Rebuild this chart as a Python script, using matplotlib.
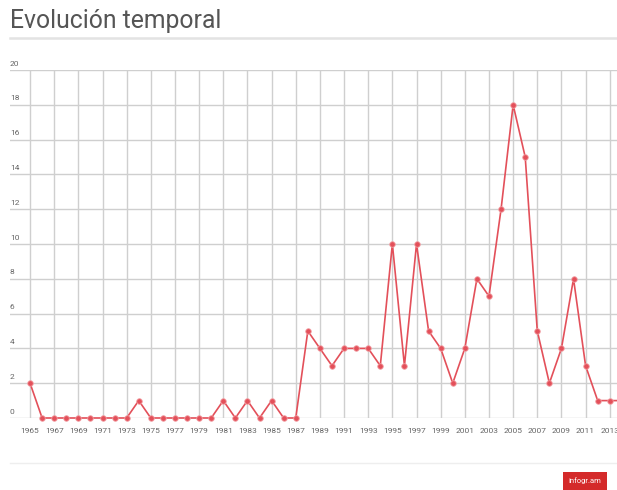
import numpy as np
import matplotlib
matplotlib.use("Agg")
import matplotlib.pyplot as plt
from matplotlib.transforms import blended_transform_factory

# Data
years = list(range(1965, 2015))
values = [2, 0, 0, 0, 0, 0, 0, 0, 0, 1,
          0, 0, 0, 0, 0, 0, 1, 0, 1, 0,
          1, 0, 0, 5, 4, 3, 4, 4, 4, 3,
          10, 3, 10, 5, 4, 2, 4, 8, 7, 12,
          18, 15, 5, 2, 4, 8, 3, 1, 1, 1]
tick_years = list(range(1965, 2014, 2))
y_ticks = list(range(0, 21, 2))

title = "Evolución temporal"
red = "#e3505a"

plt.rcParams['font.family'] = ['Roboto', 'DejaVu Sans']

fig = plt.figure(figsize=(6.17, 4.90), dpi=100)
W, H = 617, 490

# Title and separators
fig.text(10 / W, 1 - 28 / H, title, fontsize=17.8, color="#555555", va="baseline", ha="left")
fig.add_artist(plt.Line2D([10 / W, 1], [1 - 38 / H] * 2, color="#e3e3e3", lw=1.8))
fig.add_artist(plt.Line2D([10 / W, 1], [1 - 463 / H] * 2, color="#eeeeee", lw=1))

ax = fig.add_axes([10 / W, 1 - 418 / H, 1 - 10 / W, (418 - 70) / H])
ax.set_xlim(1963.34, 2013.6)
ax.set_ylim(0, 20)

for s in ax.spines.values():
    s.set_visible(False)

ax.set_yticks(y_ticks)
ax.set_xticks(tick_years)
ax.grid(True, color="#cfcfcf", lw=1.0)
ax.tick_params(length=0)
ax.set_yticklabels([])
ax.set_xticklabels([str(y) for y in tick_years], fontsize=6, color="#666666")
ax.tick_params(axis="x", pad=7)

trans = blended_transform_factory(ax.transAxes, ax.transData)
for v in y_ticks:
    ax.text(0.0, v + 0.2, str(v), transform=trans, fontsize=6, color="#666666",
            ha="left", va="bottom")

ax.plot(years, values, color=red, lw=1.2, marker="o", markersize=4,
        markerfacecolor=red, markeredgecolor="#f2a0a4", markeredgewidth=0.6,
        clip_on=False, zorder=3)

# infogram badge
fig.text(585 / W, 1 - 481 / H, "infogr.am", fontsize=5.5, color="white", ha="center", va="center",
         bbox=dict(boxstyle="square,pad=0.7", fc="#d42a2a", ec="none"))

fig.savefig("out.png", dpi=100)
